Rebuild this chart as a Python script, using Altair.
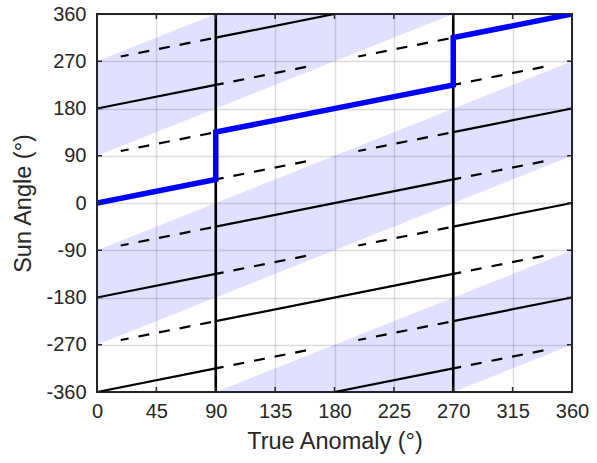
import altair as alt
import pandas as pd

# ---------------- data ----------------
X_TICKS = [0, 45, 90, 135, 180, 225, 270, 315, 360]
Y_TICKS = [-360, -270, -180, -90, 0, 90, 180, 270, 360]

# shaded diagonal bands: lower / upper edge at x = 0 and x = 360
BAND_X = [0, 360]
BAND_LOW = [[90, 450], [-270, 90], [-630, -270]]
BAND_HIGH = [[270, 630], [-90, 270], [-450, -90]]

# solid black segments (x0, y0, x1, y1)
SOLID = [
    (0, 180, 90, 225), (0, -180, 90, -135), (0, -360, 90, -315),
    (90, 315, 180, 360), (90, -45, 270, 45), (90, -225, 270, -135), (180, -360, 270, -315),
    (270, 135, 360, 180), (270, -45, 360, 0), (270, -225, 360, -180),
]
# dashed black segments (x0, y0, x1, y1)
DASHED = [
    (18, 279, 90, 315), (18, 99, 90, 135), (18, -81, 90, -45), (18, -261, 90, -225),
    (90, 225, 162, 261), (90, 45, 162, 81), (90, -135, 162, -99), (90, -315, 162, -279),
    (198, 279, 270, 315), (198, 99, 270, 135), (198, -81, 270, -45), (198, -261, 270, -225),
    (270, 225, 342, 261), (270, 45, 342, 81), (270, -135, 342, -99), (270, -315, 342, -279),
]
# vertical switching lines
JUMP_X = [90, 270]
JUMP_Y = [-360, 360]
# thick blue path
BLUE_X = [0, 90, 90, 270, 270, 360]
BLUE_Y = [0, 45, 135, 225, 315, 360]

# ---------------- tables ----------------
band_rows = []
for b, (lo, hi) in enumerate(zip(BAND_LOW, BAND_HIGH)):
    for i, x in enumerate(BAND_X):
        band_rows.append({"band": b, "x": x, "lo": lo[i], "hi": hi[i]})
bands = pd.DataFrame(band_rows)


def seg_table(segs):
    rows = []
    for s, (x0, y0, x1, y1) in enumerate(segs):
        rows.append({"seg": s, "x": x0, "y": y0})
        rows.append({"seg": s, "x": x1, "y": y1})
    return pd.DataFrame(rows)


solid = seg_table(SOLID)
dashed = seg_table(DASHED)
jumps = pd.DataFrame({"x": JUMP_X, "y": [JUMP_Y[0]] * 2, "y2": [JUMP_Y[1]] * 2})
blue = pd.DataFrame({"i": range(len(BLUE_X)), "x": BLUE_X, "y": BLUE_Y})
xt = pd.DataFrame({"x": X_TICKS})
yt = pd.DataFrame({"y": Y_TICKS})

W, H = 475, 378
FONT = "Liberation Sans"
INK = "#262626"

xscale = alt.Scale(domain=[0, 360], nice=False, zero=False)
yscale = alt.Scale(domain=[-360, 360], nice=False, zero=False)

xaxis = alt.Axis(values=X_TICKS, title="True Anomaly (°)", labelFlush=False,
                 labelOverlap=False, labelPadding=9, titlePadding=8)
yaxis = alt.Axis(values=Y_TICKS, title="Sun Angle (°)", labelOverlap=False,
                 labelPadding=11, titlePadding=10, labelExpr="'' + datum.value")


def X(f):
    return alt.X(f, type="quantitative", scale=xscale, axis=xaxis)


def Y(f):
    return alt.Y(f, type="quantitative", scale=yscale, axis=yaxis)


band_layer = alt.Chart(bands).mark_area(clip=True, color="#0000ff", opacity=0.12).encode(
    x=X("x"), y=Y("lo"), y2="hi:Q", detail="band:N",
)

jump_layer = alt.Chart(jumps).mark_rule(color="black", strokeWidth=2.6).encode(
    x=X("x"), y=Y("y"), y2="y2:Q",
)

solid_layer = alt.Chart(solid).mark_line(color="black", strokeWidth=2.2, clip=True).encode(
    x=X("x"), y=Y("y"), detail="seg:N",
)

dashed_layer = alt.Chart(dashed).mark_line(color="black", strokeWidth=2.2, strokeDash=[11, 10],
                                           strokeDashOffset=3, clip=True).encode(
    x=X("x"), y=Y("y"), detail="seg:N",
)

blue_layer = alt.Chart(blue).mark_line(color="#0000ff", strokeWidth=5.5, clip=True).encode(
    x=X("x"), y=Y("y"), order="i:Q",
)

TL = 5
xtick_bottom = alt.Chart(xt).mark_rule(color=INK, strokeWidth=1.5).encode(
    x=X("x"), y=alt.value(H), y2=alt.value(H - TL))
xtick_top = alt.Chart(xt).mark_rule(color=INK, strokeWidth=1.5).encode(
    x=X("x"), y=alt.value(0), y2=alt.value(TL))
ytick_left = alt.Chart(yt).mark_rule(color=INK, strokeWidth=1.5).encode(
    y=Y("y"), x=alt.value(0), x2=alt.value(TL))
ytick_right = alt.Chart(yt).mark_rule(color=INK, strokeWidth=1.5).encode(
    y=Y("y"), x=alt.value(W), x2=alt.value(W - TL))

chart = alt.layer(
    band_layer, jump_layer, solid_layer, dashed_layer, blue_layer,
    xtick_bottom, xtick_top, ytick_left, ytick_right,
).properties(
    width=W, height=H,
    autosize=alt.AutoSizeParams(type="none"),
    padding={"left": 97, "top": 14, "right": 25, "bottom": 71},
    background="white",
).configure_view(
    stroke=INK, strokeWidth=2,
).configure_axis(
    ticks=False, domain=False, grid=True, gridColor=INK, gridOpacity=0.16, gridWidth=1.4,
    labelFont=FONT, titleFont=FONT, labelFontSize=20, titleFontSize=23.5,
    labelColor=INK, titleColor=INK, titleFontWeight="normal",
)

chart.save("out.html", embed_options={"renderer": "svg", "actions": False})
